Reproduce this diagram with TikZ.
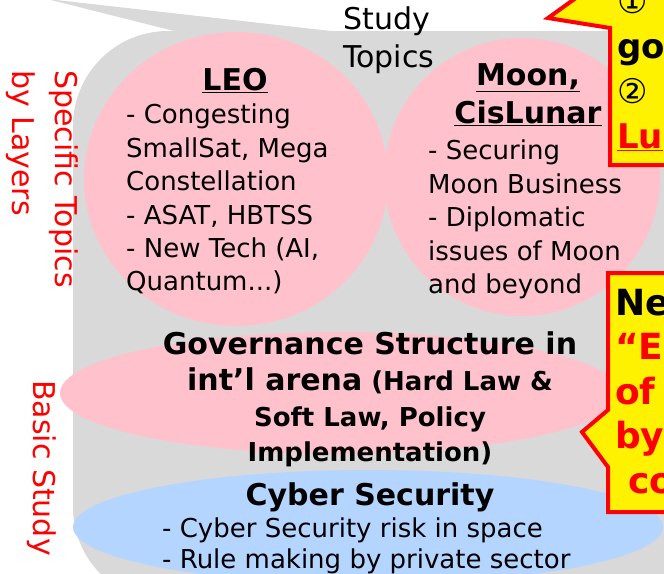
\documentclass[tikz,border=0pt]{standalone}
\usepackage{fontspec}
\setmainfont{DejaVu Sans}
\usetikzlibrary{positioning,shapes.geometric}
\definecolor{bggray}{RGB}{217,217,217}
\definecolor{layerpink}{RGB}{255,193,204}
\definecolor{layerblue}{RGB}{180,213,255}

\begin{document}
\begin{tikzpicture}[x=1pt,y=-1pt,inner sep=0pt,
  layer/.style={ellipse,fill=layerpink},
  head/.style={font=\fontsize{30}{38}\selectfont\bfseries,align=center},
  items/.style={font=\fontsize{26}{33.4}\selectfont,align=left},
  side/.style={font=\fontsize{30}{43}\selectfont,text=red,rotate=-90,align=left},
  note/.style={fill=yellow,draw=red,line width=4pt},
  notetext/.style={font=\fontsize{34}{45}\selectfont\bfseries,align=left}]
  \path[use as bounding box] (0,0) rectangle (664,573);
  \clip (0,0) rectangle (664,573);
  \fill[bggray,rounded corners=95pt] (73,31) rectangle (760,602);
  \fill[bggray] (47,-1) -- (340,32) -- (178,32) -- cycle;
  \node[layer,minimum width=304pt,minimum height=294pt] (leo) at (236,179) {};
  \node[layer,minimum width=276pt,minimum height=278pt] (moon) at (522,177) {};
  \node[layer,minimum width=560pt,minimum height=122pt] (govern) at (340,393) {};
  \node[layer,fill=layerblue,minimum width=590pt,minimum height=114pt] (cyber) at (368,527) {};
  \draw[note] (548,18) -- (610,28) -- (610,165) -- (700,165) -- (700,-20) -- (601,-20) -- cycle;
  \draw[note] (608,273) -- (700,273) -- (700,512) -- (608,512) -- (608,467) -- (582,432) -- (608,410) -- cycle;
  \node[font=\fontsize{30}{38}\selectfont,align=left,anchor=north west] (topics) at (343,7) {Study\\Topics};
  \node[side,anchor=north west] (specific) at (78,70) {Specific Topics\\by Layers};
  \node[side,anchor=base west] (basic) at (33,380) {Basic Study};
  \node[head,anchor=base] (leohead) at (235,90) {\underline{LEO}};
  \node[items,anchor=north west] (leoitems) at (126,104) {- Congesting\\SmallSat, Mega\\Constellation\\- ASAT, HBTSS\\- New Tech (AI,\\Quantum...)};
  \node[head,anchor=north] (moonhead) at (528,63) {\underline{Moon,}\\\underline{CisLunar}};
  \node[items,anchor=north west] (moonitems) at (428,140) {- Securing\\Moon Business\\- Diplomatic\\issues of Moon\\and beyond};
  \node[head,font=\fontsize{26}{35.5}\selectfont\bfseries,anchor=north] (governtext) at (370,332) {{\fontsize{30}{35.5}\selectfont Governance Structure in}\\{\fontsize{30}{35.5}\selectfont int’l arena} (Hard Law \&\\Soft Law, Policy\\Implementation)};
  \node[head,anchor=base] (cyberhead) at (370,505) {Cyber Security};
  \node[items,font=\fontsize{26}{31}\selectfont,anchor=north west] (cyberitems) at (162,518) {- Cyber Security risk in space\\- Rule making by private sector};
  \node[notetext,anchor=north west] (goaltext) at (617,-12) {{\mdseries ①}\\go\\{\mdseries ②}\\\textcolor{red}{\underline{Lu}}};
  \node[notetext,font=\fontsize{36}{44.5}\selectfont\bfseries,anchor=north west] (newtext) at (615,289) {Ne\\\textcolor{red}{“Ec}\\\textcolor{red}{of}\\\textcolor{red}{by}\\\hspace*{13pt}\textcolor{red}{co}};
\end{tikzpicture}
\end{document}
